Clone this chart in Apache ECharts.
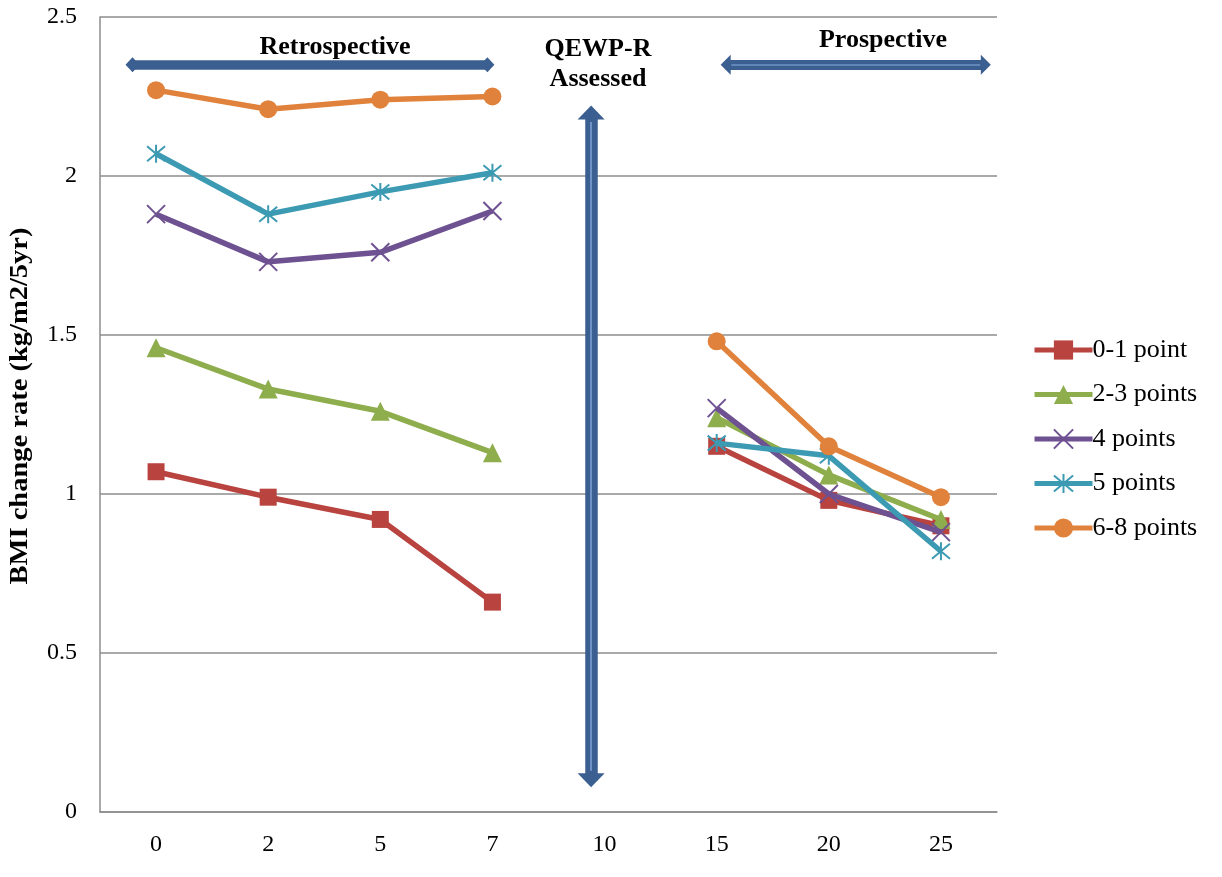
<!DOCTYPE html>
<html>
<head>
<meta charset="utf-8">
<script src="https://cdn.jsdelivr.net/npm/echarts@6/dist/echarts.min.js"></script>
<style>html,body{margin:0;padding:0;background:#fff}#c{width:1222px;height:877px}</style>
</head>
<body>
<div id="c"></div>
<script>
const categories = ['0', '2', '5', '7', '10', '15', '20', '25'];
const s01 = [1.07, 0.99, 0.92, 0.66, null, 1.15, 0.98, 0.90];
const s23 = [1.46, 1.33, 1.26, 1.13, null, 1.24, 1.06, 0.92];
const s4 = [1.88, 1.73, 1.76, 1.89, null, 1.27, 1.00, 0.88];
const s5 = [2.07, 1.88, 1.95, 2.01, null, 1.16, 1.12, 0.82];
const s68 = [2.27, 2.21, 2.24, 2.25, null, 1.48, 1.15, 0.99];
const seriesNames = ['0-1 point', '2-3 points', '4 points', '5 points', '6-8 points'];
const yAxisTitle = 'BMI change rate (kg/m2/5yr)';
// annotation arrows in (category-position, value) units
const retroArrow = [[-0.21, 2.35], [2.955, 2.35]];
const prosArrow = [[5.08, 2.35], [7.40, 2.35]];
const qewpArrow = [[3.88, 2.20], [3.88, 0.10]];

const FONT = '"Liberation Serif", "Times New Roman", serif';
const colors = ['#B8433F', '#8EAD4C', '#6E5191', '#3C9AB3', '#E0823B'];
const symbols = ['rect', 'triangle', 'path://M0,0L10,10M10,0L0,10', 'path://M0,0L10,10M10,0L0,10M5,-1L5,11', 'circle'];
const sizes = [17, 19, 18, 18, 18];
const dataSets = [s01, s23, s4, s5, s68];

const lineSeries = dataSets.map((d, i) => ({
  name: seriesNames[i],
  type: 'line',
  data: d,
  symbol: symbols[i],
  symbolSize: sizes[i],
  showAllSymbol: true,
  connectNulls: false,
  lineStyle: { color: colors[i], width: 5.5 },
  itemStyle: { color: colors[i], borderColor: colors[i], borderWidth: (i === 2 || i === 3) ? 2 : 0 },
  emphasis: { disabled: true },
  z: 3 + i
}));

const arrowColor = '#3B5F90';
const stripe = '#6F93C6';
function arrowLine(pts, sym, size, width) {
  return [
    { coord: pts[0], symbol: sym, symbolSize: size, lineStyle: { color: arrowColor, width: width, type: 'solid', cap: 'butt' }, itemStyle: { color: arrowColor } },
    { coord: pts[1], symbol: sym, symbolSize: size, itemStyle: { color: arrowColor } }
  ];
}
function stripeLine(pts, width) {
  return [
    { coord: pts[0], symbol: 'none', lineStyle: { color: stripe, width: width, type: 'solid' } },
    { coord: pts[1], symbol: 'none' }
  ];
}

const annoSeries = {
  name: 'anno',
  type: 'line',
  xAxisIndex: 1,
  data: [],
  silent: true,
  markLine: {
    silent: true,
    animation: false,
    symbol: ['none', 'none'],
    label: { show: false },
    data: [
      arrowLine(retroArrow, 'diamond', [15, 14], 9.5),
      arrowLine(prosArrow, 'triangle', [20, 10], 10),
      stripeLine([[5.13, 2.35], [7.35, 2.35]], 1.5),
      arrowLine(qewpArrow, 'triangle', [27, 14], 12.5),
      stripeLine([[3.88, 2.17], [3.88, 0.13]], 2)
    ]
  },
  z: 2
};

const chart = echarts.init(document.getElementById('c'));
chart.setOption({
  animation: false,
  backgroundColor: '#fff',
  textStyle: { fontFamily: FONT },
  grid: { left: 100, right: 225, top: 17, bottom: 65, containLabel: false, outerBoundsMode: 'none' },
  legend: {
    data: seriesNames,
    orient: 'vertical',
    left: 1027,
    top: 332,
    itemWidth: 58,
    itemHeight: 24,
    itemGap: 18.5,
    lineStyle: { width: 5 },
    textStyle: { fontFamily: FONT, fontSize: 26, color: '#000', padding: [0, 0, 0, -5] },
    selectedMode: false
  },
  xAxis: [
    {
      type: 'category',
      data: categories,
      boundaryGap: true,
      axisLine: { lineStyle: { color: '#8C8C8C', width: 1.5 } },
      axisTick: { show: false },
      axisLabel: { color: '#000', fontSize: 24, fontFamily: FONT, margin: 21 },
      splitLine: { show: false }
    },
    { type: 'value', min: -0.5, max: 7.5, show: false }
  ],
  yAxis: {
    type: 'value',
    min: 0,
    max: 2.5,
    interval: 0.5,
    axisLine: { show: true, onZero: false, lineStyle: { color: '#8C8C8C', width: 1.5 } },
    axisTick: { show: false },
    axisLabel: { color: '#000', fontSize: 24, fontFamily: FONT, margin: 23, formatter: v => String(v) },
    splitLine: { lineStyle: { color: '#8C8C8C', width: 1.5 } }
  },
  graphic: [
    { type: 'text', x: 21, y: 406, rotation: Math.PI / 2, scaleX: 1.14,
      style: { text: yAxisTitle, font: 'bold 25px ' + FONT, fill: '#000', textAlign: 'center', textVerticalAlign: 'middle' } },
    { type: 'text', style: { text: 'Retrospective', font: 'bold 26px ' + FONT, fill: '#000', textAlign: 'center', x: 335, y: 34 } },
    { type: 'text', style: { text: 'QEWP-R\nAssessed', font: 'bold 26px ' + FONT, fill: '#000', textAlign: 'center', lineHeight: 30, x: 598, y: 34 } },
    { type: 'text', style: { text: 'Prospective', font: 'bold 26px ' + FONT, fill: '#000', textAlign: 'center', x: 883, y: 27 } }
  ],
  series: lineSeries.concat([annoSeries])
});
</script>
</body>
</html>
